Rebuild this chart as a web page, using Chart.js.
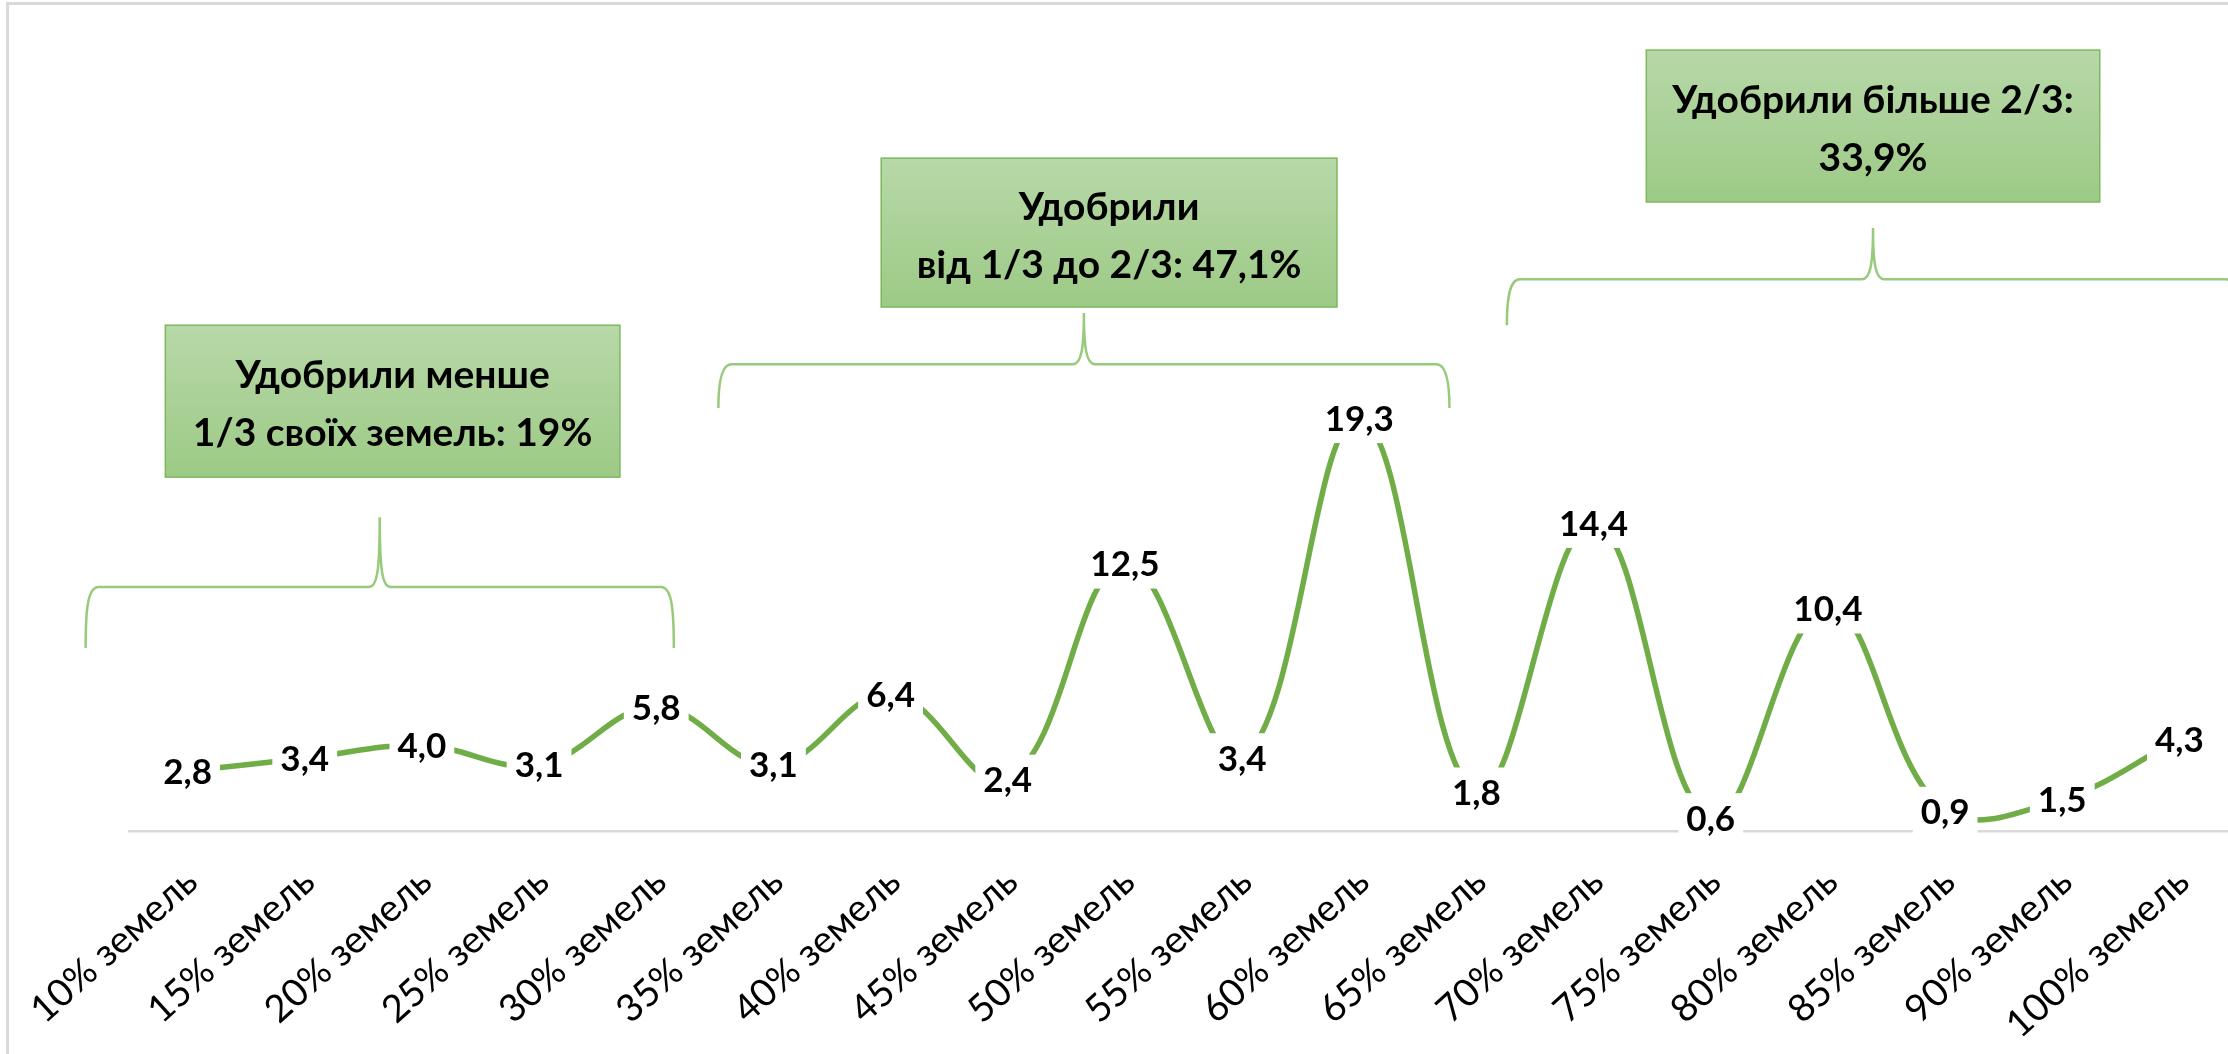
<!DOCTYPE html>
<html lang="uk">
<head>
<meta charset="utf-8">
<title>Частка удобрених земель</title>
<script src="https://cdn.jsdelivr.net/npm/chart.js@4.4.1/dist/chart.umd.min.js"></script>
<style>
    html, body { margin: 0; padding: 0; background: #fff; overflow: hidden; }
    #wrap { position: relative; width: 2228px; height: 1054px; overflow: hidden; }
    #frame {
        position: absolute; left: 6px; top: 2px;
        width: 2400px; height: 1200px;
        border: 3px solid #d9d9d9; box-sizing: border-box;
    }
    #chart { position: absolute; left: 0; top: 0; }
</style>
</head>
<body>
<div id="wrap">
    <div id="frame"></div>
    <canvas id="chart" width="2260" height="1054"></canvas>
</div>
<script>
var categories = [
    '10% земель', '15% земель', '20% земель', '25% земель', '30% земель',
    '35% земель', '40% земель', '45% земель', '50% земель', '55% земель',
    '60% земель', '65% земель', '70% земель', '75% земель', '80% земель',
    '85% земель', '90% земель', '100% земель'
];
var values = [2.8, 3.4, 4.0, 3.1, 5.8, 3.1, 6.4, 2.4, 12.5, 3.4, 19.3, 1.8, 14.4, 0.6, 10.4, 0.9, 1.5, 4.3];
var groupTitles = [
    ['Удобрили менше', '1/3 своїх земель: 19%'],
    ['Удобрили', 'від 1/3 до 2/3: 47,1%'],
    ['Удобрили більше 2/3:', '33,9%']
];

(function () {
    var green = '#70ad47';
    var labelSize = 35;
    var boxSize = 39;

    // callout layout, in category index / value units of the chart scales
    var braces = [
        { from: -0.87, to: 4.15, line: 11.4, tip: 14.67, end: 8.55 },
        { from: 4.53, to: 10.77, line: 21.82, tip: 24.21, end: 19.77 },
        { from: 11.26, to: 17.51, line: 25.79, tip: 28.18, end: 23.64 }
    ];
    var boxes = [
        { from: -0.19, to: 3.69, top: 23.64, bottom: 16.54 },
        { from: 5.92, to: 9.81, top: 31.45, bottom: 24.49 },
        { from: 12.45, to: 16.32, top: 36.5, bottom: 29.4 }
    ];

    function fmt(v) {
        return v.toFixed(1).replace('.', ',');
    }

    function drawBrace(ctx, xs, ys, b) {
        var l = xs.getPixelForValue(b.from);
        var r = xs.getPixelForValue(b.to);
        var c = (l + r) / 2;
        var yl = ys.getPixelForValue(b.line);
        var yt = ys.getPixelForValue(b.tip);
        var ye = ys.getPixelForValue(b.end);
        ctx.beginPath();
        ctx.moveTo(l, ye);
        ctx.bezierCurveTo(l, yl + 22, l + 2, yl, l + 13, yl);
        ctx.lineTo(c - 11, yl);
        ctx.bezierCurveTo(c - 3, yl, c, yl - 14, c, yt);
        ctx.bezierCurveTo(c, yl - 14, c + 3, yl, c + 11, yl);
        ctx.lineTo(r - 13, yl);
        ctx.bezierCurveTo(r - 2, yl, r, yl + 22, r, ye);
        ctx.stroke();
    }

    function drawBox(ctx, xs, ys, b, lines) {
        var l = xs.getPixelForValue(b.from);
        var r = xs.getPixelForValue(b.to);
        var t = ys.getPixelForValue(b.top);
        var bt = ys.getPixelForValue(b.bottom);
        var g = ctx.createLinearGradient(0, t, 0, bt);
        g.addColorStop(0, '#b7d8a8');
        g.addColorStop(1, '#9dca86');
        ctx.fillStyle = g;
        ctx.fillRect(l, t, r - l, bt - t);
        ctx.strokeStyle = '#7db95c';
        ctx.lineWidth = 1.5;
        ctx.strokeRect(l, t, r - l, bt - t);

        var mid = (t + bt) / 2;
        var half = boxSize * 0.36;
        ctx.fillStyle = '#000';
        ctx.font = 'bold ' + boxSize + 'px Lato';
        ctx.textAlign = 'center';
        ctx.textBaseline = 'alphabetic';
        ctx.fillText(lines[0], (l + r) / 2, mid - 27 + half);
        ctx.fillText(lines[1], (l + r) / 2, mid + 31 + half);
    }

    var callouts = {
        id: 'callouts',
        afterDatasetsDraw: function (chart) {
            var ctx = chart.ctx;
            var xs = chart.scales.x;
            var ys = chart.scales.y;
            ctx.save();
            ctx.strokeStyle = '#98ca7c';
            ctx.lineWidth = 2.5;
            braces.forEach(function (b) { drawBrace(ctx, xs, ys, b); });
            boxes.forEach(function (b, i) { drawBox(ctx, xs, ys, b, groupTitles[i]); });
            ctx.restore();
        }
    };

    // Excel-style centered data labels on white boxes
    var pointLabels = {
        id: 'pointLabels',
        afterDatasetsDraw: function (chart) {
            var ctx = chart.ctx;
            var meta = chart.getDatasetMeta(0);
            ctx.save();
            ctx.font = 'bold ' + labelSize + 'px Lato';
            ctx.textAlign = 'center';
            ctx.textBaseline = 'alphabetic';
            meta.data.forEach(function (pt, i) {
                var txt = fmt(values[i]);
                var w = ctx.measureText(txt).width + 16;
                var h = 50;
                ctx.fillStyle = '#fff';
                ctx.fillRect(pt.x - w / 2, pt.y - h / 2, w, h);
                ctx.fillStyle = '#000';
                ctx.fillText(txt, pt.x, pt.y + labelSize * 0.36);
            });
            ctx.restore();
        }
    };

    new Chart(document.getElementById('chart').getContext('2d'), {
        type: 'line',
        data: {
            labels: categories,
            datasets: [{
                data: values,
                borderColor: green,
                borderWidth: 5.5,
                tension: 0.4,
                pointRadius: 0,
                fill: false
            }]
        },
        options: {
            responsive: false,
            animation: false,
            layout: { padding: { left: 129, right: 22, top: 18, bottom: 0 } },
            plugins: { legend: { display: false }, tooltip: { enabled: false } },
            scales: {
                x: {
                    offset: true,
                    grid: { display: false },
                    border: { color: '#d9d9d9', width: 2.5 },
                    ticks: {
                        autoSkip: false,
                        minRotation: 42,
                        maxRotation: 42,
                        padding: 20,
                        labelOffset: 4,
                        color: '#000',
                        font: { family: 'Lato', size: 38 }
                    },
                    afterFit: function (scale) { scale.height = 223; }
                },
                y: {
                    display: false,
                    min: 0,
                    max: 38
                }
            }
        },
        plugins: [callouts, pointLabels]
    });
})();
</script>
</body>
</html>
